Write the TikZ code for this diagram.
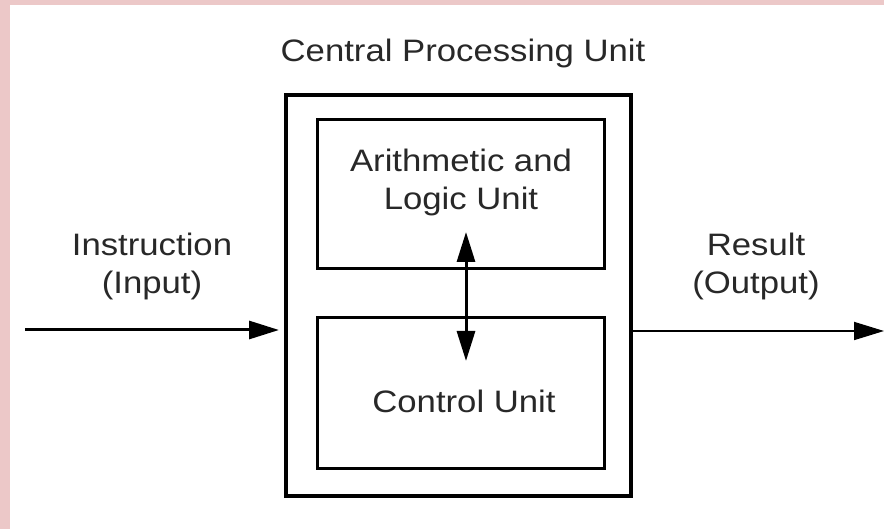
\documentclass[tikz,border=0pt]{standalone}
\usepackage{fontspec}
\setmainfont{Liberation Sans}[FakeStretch=1.12]
\usetikzlibrary{arrows.meta}
\definecolor{pinkedge}{RGB}{236,200,200}
\definecolor{inkgray}{RGB}{40,40,40}
\begin{document}
\begin{tikzpicture}[x=1pt,y=-1pt,
	unitbox/.style={draw, line width=3pt, inner sep=0pt},
	lbl/.style={inner sep=0pt, align=center, text=inkgray, font=\fontsize{31}{38}\selectfont},
	flow/.style={-{Triangle[length=30pt,width=18pt]}}]
	\useasboundingbox (0,0) rectangle (884,529);
	\fill[pinkedge] (0,0) rectangle (884,529);
	\fill[white] (10,5) rectangle (884,529);
	% boxes
	\node [unitbox, line width=4pt, minimum width=345pt, minimum height=401pt] (cpu) at (458.5,295.5) {};
	\node [unitbox, minimum width=287pt, minimum height=149pt] (alu) at (460.5,194.5) {};
	\node [unitbox, minimum width=287pt, minimum height=150pt] (cu) at (460.5,393) {};
	% labels
	\node [lbl, anchor=base] (cputitle) at (463,62) {Central Processing Unit};
	\node [lbl] (alutext) at (461,182) {Arithmetic and\\Logic Unit};
	\node [lbl, anchor=base] (cutext) at (464,413) {Control Unit};
	\node [lbl] (intext) at (152,266) {Instruction\\(Input)};
	\node [lbl] (outtext) at (756,266) {Result\\(Output)};
	% arrows
	\coordinate (inp) at (25,330);
	\coordinate (outp) at (884,331);
	\coordinate (busa) at (466,232);
	\coordinate (busb) at (466,361);
	\draw [flow, line width=3pt] (inp) -- ([xshift=-5pt]inp -| cpu.west);
	\draw [flow, line width=1.8pt] (outp -| cpu.east) -- (outp);
	\draw [{Triangle[length=30pt,width=18pt]}-{Triangle[length=30pt,width=18pt]}, line width=3pt] (busa) -- (busb);
\end{tikzpicture}
\end{document}
